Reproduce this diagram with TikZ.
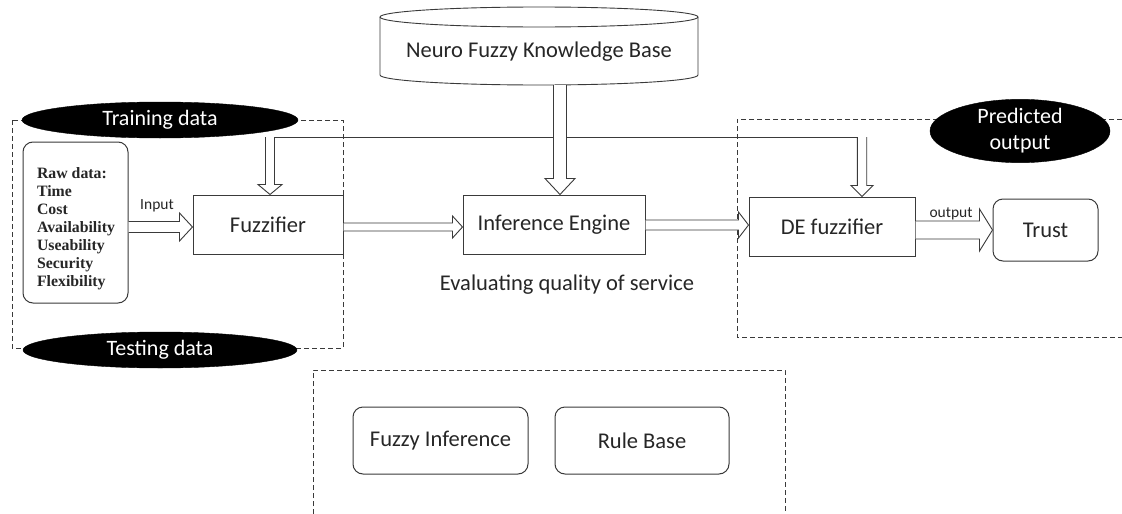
\documentclass[tikz,border=0pt]{standalone}
\usepackage{fontspec}
\setmainfont{Carlito}
\newfontfamily\rawfont{Liberation Serif}
\usetikzlibrary{calc,shapes.geometric}
\definecolor{ln}{HTML}{3A3A3A}
\definecolor{tx}{HTML}{262626}
\newcommand\harr[5]{\draw[arrsty] let \p1=#1, \p2=#2 in
  (\x1,\y1-#3pt) -- (\x2-#5pt,\y1-#3pt) -- (\x2-#5pt,\y1-#4pt) -- (\x2,\y1)
  -- (\x2-#5pt,\y1+#4pt) -- (\x2-#5pt,\y1+#3pt) -- (\x1,\y1+#3pt);}
\newcommand\varr[5]{\draw[arrsty] let \p1=#1, \p2=#2 in
  (\x1-#3pt,\y1) -- (\x1-#3pt,\y2+#5pt) -- (\x1-#4pt,\y2+#5pt) -- (\x1,\y2)
  -- (\x1+#4pt,\y2+#5pt) -- (\x1+#3pt,\y2+#5pt) -- (\x1+#3pt,\y1);}
\begin{document}
\begin{tikzpicture}[x=1pt,y=-1pt,
  every node/.style={font=\fontsize{22.5}{26}\selectfont, text=tx},
  box/.style={draw=ln, line width=1pt, fill=white, inner sep=0pt},
  rbox/.style={box, rounded corners=10pt},
  blob/.style={ellipse, fill=black, draw=black, text=white, inner sep=0pt},
  grpline/.style={draw=ln, line width=0.9pt, dash pattern=on 5pt off 3pt},
  arrsty/.style={draw=ln, line width=0.9pt, fill=white, line join=miter},
  thinln/.style={draw=ln, line width=0.9pt},
  lbl/.style={font=\fontsize{15.5}{18}\selectfont}]
\useasboundingbox (0,0) rectangle (1122,514);
\fill[white] (0,0) rectangle (1122,514);

% dashed groups
\draw[grpline] (12,120) rectangle (343,348);
\draw[grpline] (1122,119) -- (737,119) -- (737,337) -- (1122,337);
\draw[grpline] (313,514) -- (313,370) -- (785,370) -- (785,514);

% knowledge base cylinder
\draw[thinln, fill=white] (380,17) -- (380,75) arc[start angle=180, end angle=360, x radius=159pt, y radius=10pt] -- (698,17);
\draw[thinln] (539,17) ellipse [x radius=159pt, y radius=10pt];
\node[minimum width=318pt, minimum height=66pt, inner sep=0pt] (kb) at (539,52) {Neuro Fuzzy Knowledge Base};

% ellipses
\node[blob, minimum width=276pt, minimum height=36pt, font=\fontsize{22}{26}\selectfont] (train) at (160,120) {Training data};
\node[blob, minimum width=274pt, minimum height=36pt, font=\fontsize{22}{26}\selectfont] (test) at (160,350) {Testing data};
\node[blob, minimum width=180pt, minimum height=53pt, align=center, font=\fontsize{22}{26}\selectfont] (pred) at (1020,131) {Predicted\\output};

% boxes
\node[rbox, minimum width=105pt, minimum height=161pt] (raw) at (75.5,222.5) {};
\node[align=left, font=\rawfont\bfseries\fontsize{15.8}{18}\selectfont, inner sep=0pt] (rawt) at (76,229)
  {Raw data:\\Time\\Cost\\Availability\\Useability\\Security\\Flexibility};
\node[box, minimum width=150pt, minimum height=59pt] (fuzz) at (268,224.5) {Fuzzifier};
\node[box, minimum width=182pt, minimum height=59pt] (inf) at (554,224.5) {Inference Engine};
\node[box, minimum width=166pt, minimum height=59pt] (de) at (832,226.5) {DE fuzzifier};
\node[rbox, minimum width=105pt, minimum height=62pt] (trust) at (1045.5,230) {Trust};
\node[rbox, minimum width=175pt, minimum height=67pt] (fi) at (440.5,440.5) {Fuzzy Inference};
\node[rbox, minimum width=174pt, minimum height=67pt] (rb) at (642,440.5) {Rule Base};
\node (eval) at (567,285) {Evaluating quality of service};

% labels
\node[lbl] (inlbl) at (157,206) {Input};
\node[lbl] (outlbl) at (951,214) {output};

% feedback line
\coordinate (fb1) at (270,137);
\coordinate (fb2) at (862,137);
\coordinate (kbx) at (560,0);
\draw[thinln] (fb1) -- (fb2);

% arrows
\harr{(raw.east |- 0,227)}{(fuzz.west |- 0,227)}{5.5}{14}{13}
\harr{(fuzz.east |- 0,227)}{(inf.west |- 0,227)}{4}{11}{10}
\harr{(inf.east |- 0,225)}{(de.west |- 0,225)}{5}{13}{10}
\harr{(de.east |- 0,230)}{(trust.west |- 0,230)}{9}{21}{13}
\varr{(kb.south -| kbx)}{(inf.north -| kbx)}{6.5}{15}{16}
\varr{(fb1)}{(fuzz.north -| fb1)}{4.5}{12}{10}
\varr{(fb2)}{(de.north -| fb2)}{4.7}{11}{11}
\end{tikzpicture}
\end{document}
